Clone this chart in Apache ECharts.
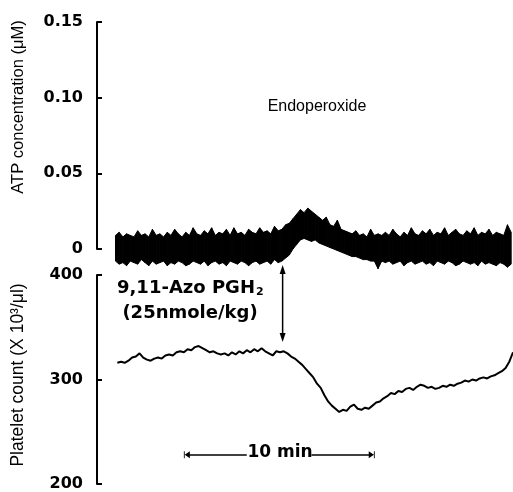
<!DOCTYPE html>
<html>
<head>
<meta charset="utf-8">
<script src="https://cdn.jsdelivr.net/npm/echarts@6/dist/echarts.min.js"></script>
<style>
  html, body { margin: 0; padding: 0; background: #fff; }
  #chart { width: 513px; height: 492px; }
</style>
</head>
<body>
<div id="chart"></div>
<script>
// time in minutes from the y axis line
const atpStart = 1.0, atpStep = 0.2;
// ATP trace envelopes (uM)
const atpUpper = [
  0.009, 0.011, 0.008, 0.010, 0.009, 0.008, 0.012, 0.009, 0.010, 0.008,
  0.013, 0.009, 0.010, 0.008, 0.011, 0.009, 0.013, 0.010, 0.008, 0.011,
  0.009, 0.014, 0.010, 0.009, 0.012, 0.010, 0.014, 0.009, 0.011, 0.010,
  0.013, 0.009, 0.014, 0.010, 0.011, 0.009, 0.013, 0.011, 0.010, 0.014,
  0.011, 0.012, 0.010, 0.015, 0.012, 0.013, 0.016, 0.017, 0.020, 0.023,
  0.026, 0.024, 0.027, 0.025, 0.023, 0.021, 0.019, 0.021, 0.016, 0.015,
  0.019, 0.013, 0.012, 0.011, 0.010, 0.012, 0.009, 0.010, 0.008, 0.013,
  0.009, 0.010, 0.009, 0.011, 0.009, 0.013, 0.010, 0.008, 0.011, 0.009,
  0.014, 0.010, 0.009, 0.012, 0.010, 0.013, 0.009, 0.011, 0.010, 0.014,
  0.009, 0.011, 0.013, 0.010, 0.009, 0.012, 0.010, 0.014, 0.009, 0.011,
  0.010, 0.013, 0.009, 0.011, 0.010, 0.009, 0.016, 0.011
];
const atpLower = [
  -0.008, -0.010, -0.009, -0.011, -0.008, -0.009, -0.010, -0.007, -0.009, -0.011,
  -0.008, -0.010, -0.009, -0.008, -0.011, -0.009, -0.010, -0.008, -0.009, -0.011,
  -0.010, -0.008, -0.009, -0.010, -0.008, -0.011, -0.009, -0.008, -0.010, -0.009,
  -0.011, -0.008, -0.009, -0.010, -0.008, -0.009, -0.011, -0.009, -0.008, -0.010,
  -0.009, -0.008, -0.010, -0.007, -0.009, -0.008, -0.006, -0.004, 0.000, 0.003,
  0.006, 0.007, 0.006, 0.005, 0.006, 0.004, 0.003, 0.002, 0.001, 0.000,
  -0.001, -0.002, -0.003, -0.004, -0.005, -0.005, -0.006, -0.007, -0.007, -0.008,
  -0.008, -0.013, -0.008, -0.009, -0.008, -0.010, -0.009, -0.008, -0.011, -0.009,
  -0.008, -0.010, -0.009, -0.008, -0.010, -0.009, -0.011, -0.008, -0.009, -0.010,
  -0.008, -0.009, -0.011, -0.010, -0.008, -0.009, -0.010, -0.009, -0.011, -0.008,
  -0.010, -0.009, -0.010, -0.011, -0.009, -0.010, -0.012, -0.010
];

// platelet count (x10^3/ul)
const plateletStart = 1.1, plateletStep = 0.2;
const platelet = [
  316, 317, 316, 318, 321, 322, 325, 321, 319, 318,
  320, 321, 320, 323, 324, 323, 326, 327, 326, 329,
  328, 331, 332, 330, 328, 326, 327, 325, 324, 325,
  323, 326, 324, 327, 325, 328, 326, 329, 327, 330,
  327, 325, 323, 327, 326, 327, 325, 322, 320, 317,
  314, 310, 306, 302, 296, 292, 285, 279, 275, 272,
  269, 271, 270, 274, 276, 272, 271, 273, 272, 275,
  278, 279, 282, 284, 287, 286, 289, 288, 291, 292,
  290, 293, 295, 294, 292, 293, 291, 292, 294, 293,
  295, 294, 296, 297, 299, 298, 300, 299, 301, 302,
  301, 303, 304, 306, 308, 311, 317, 326
];

const injectionTime = 10.04;
const injectionArrow = [409.6, 336];
const scaleBar = [4.86, 14.86];   // 10 min
const scaleBarGap = [8.1, 11.6];
const scaleBarLevel = 228;

const n = Math.min(atpUpper.length, atpLower.length);
const atpData = [];
for (let i = 0; i < n; i++) {
  atpData.push([atpStart + i * atpStep, atpLower[i], atpUpper[i]]);
}
const plateletData = platelet.map((v, i) => [plateletStart + i * plateletStep, v]);

// noisy band: one quad from each sample to the next
function renderBand(params, api) {
  const i = params.dataIndex;
  if (i >= atpData.length - 1) return null;
  const a = atpData[i], b = atpData[i + 1];
  const pts = [
    api.coord([a[0], a[2]]), api.coord([b[0], b[2]]),
    api.coord([b[0], b[1]]), api.coord([a[0], a[1]])
  ];
  return {
    type: "polygon",
    shape: { points: pts },
    style: { fill: "#000", stroke: "#000", lineWidth: 1 }
  };
}

const numFont = { color: "#000", fontFamily: "DejaVu Sans", fontWeight: "bold", fontSize: 16 };
const barEnd = "path://M0,0 L-5,9 L5,9 Z M-5,-1.5 L5,-1.5 L5,0 L-5,0 Z";
const yAxisBase = {
  type: "value",
  splitLine: { show: false },
  axisLine: { show: true, lineStyle: { color: "#000", width: 2 } },
  axisTick: { show: true, inside: true, length: 5, lineStyle: { color: "#000", width: 2 } }
};

const chart = echarts.init(document.getElementById("chart"));
chart.setOption({
  animation: false,
  backgroundColor: "#fff",
  grid: [
    { left: 97, right: 0, top: 22, height: 227 },
    { left: 97, right: 0, top: 275, height: 209 }
  ],
  xAxis: [
    { gridIndex: 0, type: "value", min: 0, max: 22.5, show: false },
    { gridIndex: 1, type: "value", min: 0, max: 22.5, show: false }
  ],
  yAxis: [
    Object.assign({}, yAxisBase, {
      gridIndex: 0, min: 0, max: 0.15, interval: 0.05,
      axisLabel: Object.assign({ margin: 14, formatter: v => (v === 0 ? "0" : v.toFixed(2)) }, numFont)
    }),
    Object.assign({}, yAxisBase, {
      gridIndex: 1, min: 200, max: 400, interval: 100,
      axisLabel: Object.assign({ margin: 14 }, numFont)
    })
  ],
  series: [
    {
      name: "ATP",
      type: "custom",
      xAxisIndex: 0, yAxisIndex: 0,
      renderItem: renderBand,
      encode: { x: 0, y: [1, 2] },
      data: atpData,
      silent: true
    },
    {
      name: "Platelet count",
      type: "line",
      xAxisIndex: 1, yAxisIndex: 1,
      data: plateletData,
      showSymbol: false,
      clip: false,
      lineStyle: { color: "#000", width: 2 },
      markLine: {
        silent: true,
        animation: false,
        label: { show: false },
        lineStyle: { color: "#000", width: 1.5, type: "solid" },
        data: [
          [
            { coord: [scaleBar[0], scaleBarLevel], symbol: barEnd, symbolSize: [7, 6] },
            { coord: [scaleBarGap[0], scaleBarLevel], symbol: "none" }
          ],
          [
            { coord: [scaleBarGap[1], scaleBarLevel], symbol: "none" },
            { coord: [scaleBar[1], scaleBarLevel], symbol: barEnd, symbolSize: [7, 6] }
          ]
        ]
      }
    }
  ],
  graphic: [
    {
      id: "atpName", type: "text", x: 18, y: 107, rotation: Math.PI / 2,
      style: { text: "ATP concentration (\u03bcM)", fill: "#000", font: "16.5px 'Liberation Sans', Arial",
        textAlign: "center", textVerticalAlign: "middle" }
    },
    {
      id: "plateletName", type: "text", x: 18, y: 375, rotation: Math.PI / 2,
      style: { text: "Platelet count (X 10\u00b3/\u03bcl)", fill: "#000", font: "17.5px 'Liberation Sans', Arial",
        textAlign: "center", textVerticalAlign: "middle" }
    },
    {
      id: "endo", type: "text", x: 317, y: 107,
      style: { text: "Endoperoxide", fill: "#000", font: "16px 'Liberation Sans', Arial",
        textAlign: "center", textVerticalAlign: "middle" }
    },
    {
      id: "azo", type: "text", x: 117, y: 288,
      style: {
        text: "{a|9,11-Azo PGH}{s|2}",
        textVerticalAlign: "middle",
        rich: {
          a: { fontFamily: "DejaVu Sans", fontWeight: "bold", fontSize: 18, fill: "#000" },
          s: { fontFamily: "DejaVu Sans", fontWeight: "bold", fontSize: 11, fill: "#000", padding: [8, 0, 0, 1] }
        }
      }
    },
    {
      id: "dose", type: "text", x: 190, y: 313,
      style: { text: "(25nmole/kg)", fill: "#000", font: "bold 18px 'DejaVu Sans'",
        textAlign: "center", textVerticalAlign: "middle" }
    },
    {
      id: "tenMin", type: "text", x: 280, y: 453,
      style: { text: "10 min", fill: "#000", font: "bold 17px 'DejaVu Sans'",
        textAlign: "center", textVerticalAlign: "middle" }
    }
  ]
});

// injection arrow: its top end lies above the platelet axis, so place it via the axis scale
const arrowTop = chart.convertToPixel({ gridIndex: 1 }, [injectionTime, injectionArrow[0]]);
const arrowBot = chart.convertToPixel({ gridIndex: 1 }, [injectionTime, injectionArrow[1]]);
chart.setOption({
  graphic: [
    { id: "arrowLine", type: "line",
      shape: { x1: arrowTop[0], y1: arrowTop[1] + 4, x2: arrowBot[0], y2: arrowBot[1] - 4 },
      style: { stroke: "#000", lineWidth: 1.5 } },
    { id: "arrowUp", type: "polygon",
      shape: { points: [[arrowTop[0], arrowTop[1]], [arrowTop[0] - 3, arrowTop[1] + 9], [arrowTop[0] + 3, arrowTop[1] + 9]] },
      style: { fill: "#000" } },
    { id: "arrowDown", type: "polygon",
      shape: { points: [[arrowBot[0], arrowBot[1]], [arrowBot[0] - 3, arrowBot[1] - 9], [arrowBot[0] + 3, arrowBot[1] - 9]] },
      style: { fill: "#000" } }
  ]
});
</script>
</body>
</html>
